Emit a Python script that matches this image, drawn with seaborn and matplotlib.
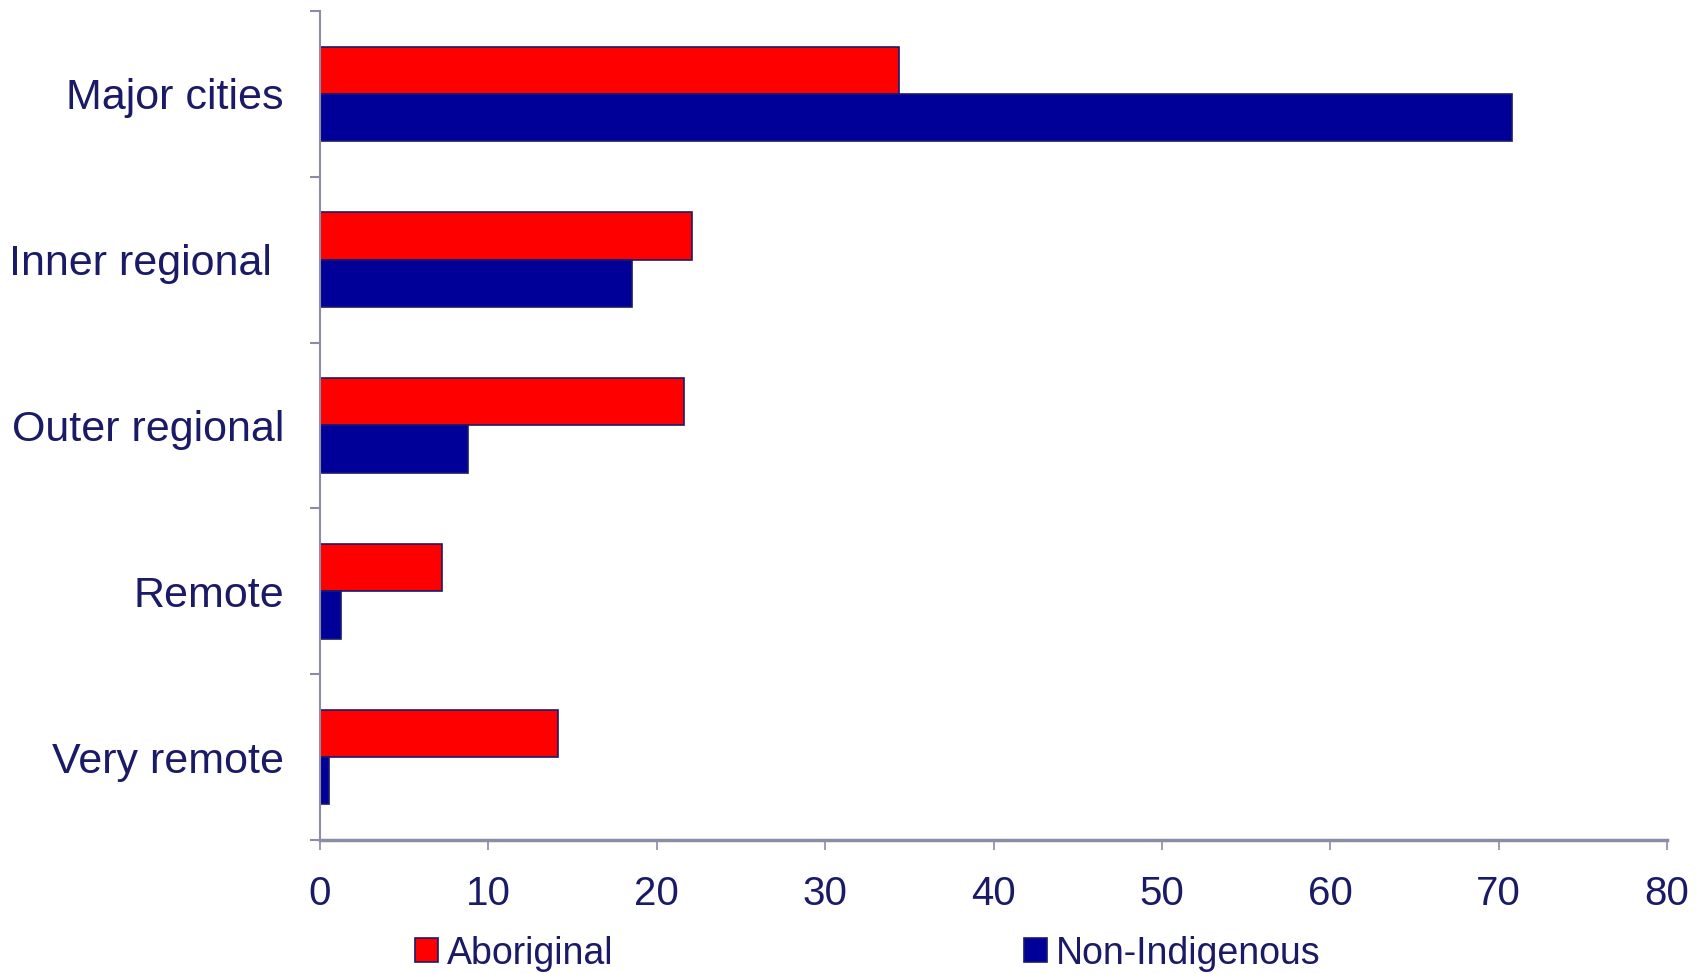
import matplotlib
matplotlib.use("Agg")
import matplotlib.pyplot as plt
import seaborn as sns
import pandas as pd
import numpy as np
from matplotlib.patches import Patch

# Share of each population living in each remoteness area (%)
regions = ["Major cities", "Inner regional ", "Outer regional", "Remote", "Very remote"]
aboriginal = [34.4, 22.1, 21.6, 7.25, 14.15]
non_indigenous = [70.8, 18.5, 8.8, 1.25, 0.55]
groups = ["Aboriginal", "Non-Indigenous"]
x_ticks = [0, 10, 20, 30, 40, 50, 60, 70, 80]

df = pd.DataFrame({
    "region": regions * 2,
    "group": [groups[0]] * len(regions) + [groups[1]] * len(regions),
    "value": aboriginal + non_indigenous,
})

sns.set_theme(style="white")
plt.rcParams["font.family"] = ["Liberation Sans", "DejaVu Sans"]

text_col = "#1a1a66"
axis_col = "#8c8ca6"
palette = {"Aboriginal": "#ff0000", "Non-Indigenous": "#000099"}

fig = plt.figure(figsize=(17.07, 9.74), dpi=100)
ax = fig.add_axes([0.1875, 0.1376, 0.7891, 0.8511])

sns.barplot(data=df, x="value", y="region", hue="group", order=regions,
            hue_order=groups, palette=palette, orient="h", width=0.57,
            edgecolor="#1a1a6e", linewidth=1.2, saturation=1, legend=False, ax=ax)

ax.set_xlim(0, 80)
ax.set_ylim(len(regions) - 0.5, -0.5)
ax.set_xlabel("")
ax.set_ylabel("")

ax.set_xticks(x_ticks)
ax.set_xticklabels([str(t) for t in x_ticks])
ax.set_yticks(np.arange(-0.5, len(regions), 1.0), minor=True)

for side in ["top", "right"]:
    ax.spines[side].set_visible(False)
for side in ["left", "bottom"]:
    ax.spines[side].set_color(axis_col)
    ax.spines[side].set_linewidth(1.5)
ax.spines["bottom"].set_linewidth(2.5)

ax.tick_params(axis="x", which="major", direction="out", length=7, width=1.2,
               color=axis_col, labelsize=29, labelcolor=text_col, pad=18, bottom=True)
ax.tick_params(axis="y", which="major", length=0, labelsize=31, labelcolor=text_col, pad=26)
ax.tick_params(axis="y", which="minor", direction="out", length=7, width=1.5,
               color=axis_col, left=True)

handles = [Patch(facecolor=palette[g], edgecolor="#1a1a6e", linewidth=1.2, label=g) for g in groups]
leg = fig.legend(handles=handles, loc="center left", bbox_to_anchor=(0.2345, 0.021),
                 ncol=2, frameon=False, fontsize=27, handlelength=0.6, handleheight=0.6,
                 handletextpad=0.25, columnspacing=10.95, borderaxespad=0)
for txt in leg.get_texts():
    txt.set_color(text_col)

fig.savefig("out.png", dpi=100)
